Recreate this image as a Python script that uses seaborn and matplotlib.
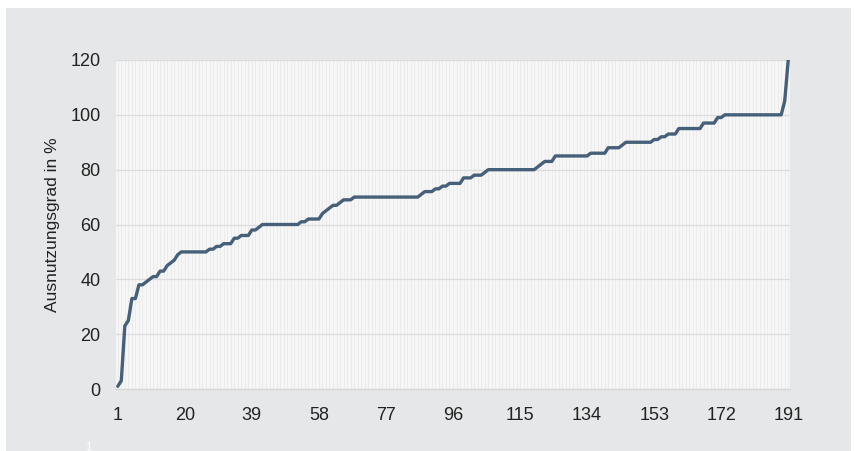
import numpy as np
import pandas as pd
import seaborn as sns
import matplotlib.pyplot as plt
from matplotlib.patches import Rectangle

# Ausnutzungsgrad, sortiert (191 Werte)
ausnutzung = [
    1, 3, 23, 25, 33, 33, 38, 38, 39, 40,
    41, 41, 43, 43, 45, 46, 47, 49, 50, 50,
    50, 50, 50, 50, 50, 50, 51, 51, 52, 52,
    53, 53, 53, 55, 55, 56, 56, 56, 58, 58,
    59, 60, 60, 60, 60, 60, 60, 60, 60, 60,
    60, 60, 61, 61, 62, 62, 62, 62, 64, 65,
    66, 67, 67, 68, 69, 69, 69, 70, 70, 70,
    70, 70, 70, 70, 70, 70, 70, 70, 70, 70,
    70, 70, 70, 70, 70, 70, 71, 72, 72, 72,
    73, 73, 74, 74, 75, 75, 75, 75, 77, 77,
    77, 78, 78, 78, 79, 80, 80, 80, 80, 80,
    80, 80, 80, 80, 80, 80, 80, 80, 80, 81,
    82, 83, 83, 83, 85, 85, 85, 85, 85, 85,
    85, 85, 85, 85, 86, 86, 86, 86, 86, 88,
    88, 88, 88, 89, 90, 90, 90, 90, 90, 90,
    90, 90, 91, 91, 92, 92, 93, 93, 93, 95,
    95, 95, 95, 95, 95, 95, 97, 97, 97, 97,
    99, 99, 100, 100, 100, 100, 100, 100, 100, 100,
    100, 100, 100, 100, 100, 100, 100, 100, 100, 105, 120,
]
nr = list(range(1, len(ausnutzung) + 1))
x_ticks = [1, 20, 39, 58, 77, 96, 115, 134, 153, 172, 191]
y_ticks = [0, 20, 40, 60, 80, 100, 120]

df = pd.DataFrame({'nr': nr, 'wert': ausnutzung})

sns.set_style('white')
plt.rcParams['font.family'] = ['Liberation Sans Narrow', 'Liberation Sans', 'DejaVu Sans']

fig = plt.figure(figsize=(8.55, 4.51), dpi=100)
fig.patch.set_facecolor('white')
# grauer Hintergrund
bg = Rectangle((6 / 855, 0), 845 / 855, 443 / 451, transform=fig.transFigure,
               facecolor='#e6e7e8', edgecolor='none', zorder=-5)
fig.add_artist(bg)

ax = fig.add_axes([116 / 855, 1 - 389 / 451, 674 / 855, 329 / 451])
ax.set_zorder(2)
ax.set_facecolor('#f6f6f6')

# feine senkrechte Linien pro Kategorie
for xv in nr:
    ax.axvline(xv, color='#ebebeb', lw=0.6, zorder=1)
for yv in y_ticks[1:]:
    ax.axhline(yv, color='#dcdcdc', lw=0.9, zorder=1)

sns.lineplot(data=df, x='nr', y='wert', ax=ax, color='#46607a', lw=2.4, zorder=3)

ax.set_xlim(0.5, 191.5)
ax.set_ylim(0, 120)
ax.set_xticks(x_ticks)
ax.set_yticks(y_ticks)
ax.tick_params(axis='both', length=0, labelsize=13, colors='#222222')
ax.tick_params(axis='x', pad=13)
ax.tick_params(axis='y', pad=11)
ax.set_xlabel('')
ax.set_ylabel('Ausnutzungsgrad in %', fontsize=12.5, color='#222222')
ax.yaxis.set_label_coords(-56 / 674, 0.5)

for s in ['top', 'right', 'left']:
    ax.spines[s].set_visible(False)
ax.spines['bottom'].set_color('#d6d6d6')
ax.spines['bottom'].set_linewidth(1.0)

fig.text(88 / 855, 1 - 447 / 451, '1', color='white', fontsize=8, ha='center', va='center', zorder=3)

fig.savefig('out.png', dpi=100, facecolor=fig.get_facecolor())
